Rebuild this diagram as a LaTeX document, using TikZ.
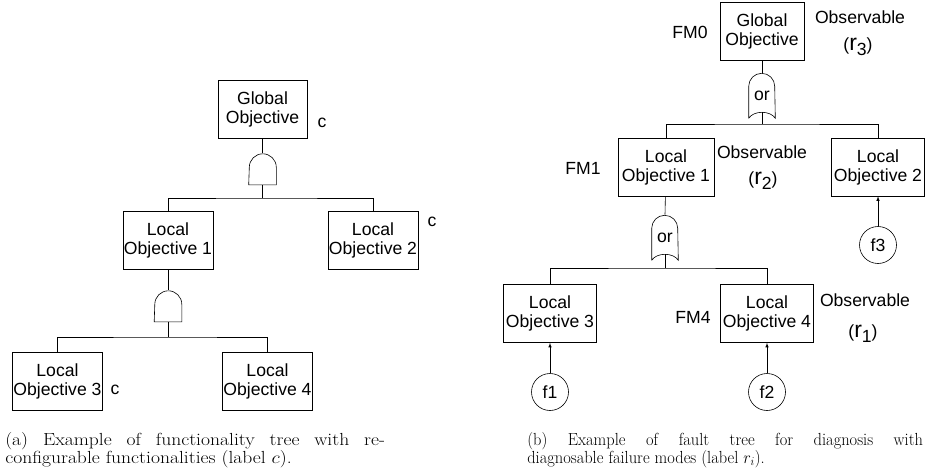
\documentclass[tikz,border=0pt]{standalone}
\usepackage{fontspec}
\newfontfamily\diagsans{Liberation Sans}
\usetikzlibrary{arrows,calc}
\newcommand\diagfont{\diagsans\fontsize{17.6}{19}\selectfont}
\newcommand\capfont{\fontsize{17.5}{18}\selectfont}
\newcommand\obslab[1]{(\raisebox{0pt}{\fontsize{23}{23}\selectfont r}\raisebox{-5pt}{#1})}

\begin{document}
\begin{tikzpicture}
[   x=1pt,y=-1pt,
    line width=0.6pt,
    box/.style={draw,align=center,minimum height=58pt,inner sep=1pt,font=\diagfont},
    andgate/.style={minimum width=27pt,minimum height=31pt,inner sep=0pt},
    orgate/.style={minimum width=26pt,minimum height=45pt,inner sep=0pt,font=\diagfont},
    fault/.style={draw,circle,minimum size=37pt,inner sep=0pt,font=\diagfont},
    lab/.style={font=\diagfont,inner sep=0pt},
    capt/.style={anchor=base west,align=left,inner sep=0pt,font=\capfont}
]
    \useasboundingbox (0,0) rectangle (926,476);

    % (a) functionality tree
    \node[box,minimum width=89pt] (GO) at (262.5,109) {Global\\Objective};
    \node[box,minimum width=90pt] (LO1) at (168,240) {Local\\Objective 1};
    \node[box,minimum width=90pt] (LO2) at (373,240) {Local\\Objective 2};
    \node[box,minimum width=89pt] (LO3) at (57.5,381.5) {Local\\Objective 3};
    \node[box,minimum width=89pt] (LO4) at (267.5,381.5) {Local\\Objective 4};
    \node[lab] (cGO) at (322,123) {c};
    \node[lab] (cLO2) at (432,222) {c};
    \node[lab] (cLO3) at (115,390) {c};

    \node[andgate] (A1) at (262.5,169) {};
        \draw (A1.south west) -- (A1.south east) -- ++(0pt,17.5pt) arc[start angle=0,end angle=180,radius=13.5pt] -- cycle;
    \node[andgate] (A2) at (168,306) {};
        \draw (A2.south west) -- (A2.south east) -- ++(0pt,17.5pt) arc[start angle=0,end angle=180,radius=13.5pt] -- cycle;

    \coordinate (J1) at (262.5,198);
    \coordinate (J2) at (168,337);
    \draw (GO) -- (A1.north);
    \draw (A1.south) -- (J1);
    \draw (LO1.north) |- (J1) -| (LO2.north);
    \draw (LO1) -- (A2.north);
    \draw (A2.south) -- (J2);
    \draw (LO3.north) |- (J2) -| (LO4.north);

    % (b) fault tree
    \node[box,minimum width=84pt] (FGO) at (762,31.5) {Global\\Objective};
    \node[box,minimum width=96pt] (FLO1) at (666,167) {Local\\Objective 1};
    \node[box,minimum width=93pt] (FLO2) at (878,167) {Local\\Objective 2};
    \node[box,minimum width=93pt] (FLO3) at (550,313.5) {Local\\Objective 3};
    \node[box,minimum width=93pt] (FLO4) at (767,313.5) {Local\\Objective 4};

    \node[lab] (FM0) at (690,32) {FM0};
    \node[lab] (FM1) at (583,168) {FM1};
    \node[lab] (FM4) at (693,317) {FM4};
    \node[lab] (obs3) at (860,17) {Observable};
    \node[lab] (r3) at (858,47) {\obslab{3}};
    \node[lab] (obs2) at (762,152) {Observable};
    \node[lab] (r2) at (763,181) {\obslab{2}};
    \node[lab] (obs1) at (865,300) {Observable};
    \node[lab] (r1) at (863,334) {\obslab{1}};

    \node[orgate] (O1) at (762,95.5) {or};
        \draw (O1.south west) -- ++(0pt,32pt) arc[start angle=180,end angle=0,radius=13pt] -- (O1.south east)
            .. controls +(-5pt,8pt) and +(5pt,8pt) .. (O1.south west);
        \coordinate (O1in) at ($(O1.south)+(0pt,6pt)$);
    \node[orgate] (O2) at (665,237.5) {or};
        \draw (O2.south west) -- ++(0pt,32pt) arc[start angle=180,end angle=0,radius=13pt] -- (O2.south east)
            .. controls +(-5pt,8pt) and +(5pt,8pt) .. (O2.south west);
        \coordinate (O2in) at ($(O2.south)+(0pt,6pt)$);

    \coordinate (K1) at (762,124);
    \coordinate (K2) at (665,268);
    \draw (FGO) -- (O1.north);
    \draw (O1in) -- (K1);
    \draw (FLO1.north) |- (K1) -| (FLO2.north);
    \draw (FLO1) -- (O2.north);
    \draw (O2in) -- (K2);
    \draw (FLO3.north) |- (K2) -| (FLO4.north);

    \node[fault] (f3) at (878,245) {f3};
    \node[fault] (f1) at (550,392) {f1};
    \node[fault] (f2) at (767,392) {f2};
    \draw[-latex] (f3) -- (FLO2);
    \draw[-latex] (f1) -- (FLO3);
    \draw[-latex] (f2) -- (FLO4);

    % captions
    \node[capt] (capA) at (5,463) {\scalebox{1.12}[1]{\makebox[339pt][s]{(a) Example of functionality tree with re-}}\\\scalebox{1.12}[1]{configurable functionalities (label $c$).}};
    \node[capt] (capB) at (527,463) {\scalebox{0.94}[1]{\makebox[421pt][s]{(b) Example of fault tree for diagnosis with}}\\\scalebox{0.94}[1]{diagnosable failure modes (label $r_i$).}};
\end{tikzpicture}
\end{document}
